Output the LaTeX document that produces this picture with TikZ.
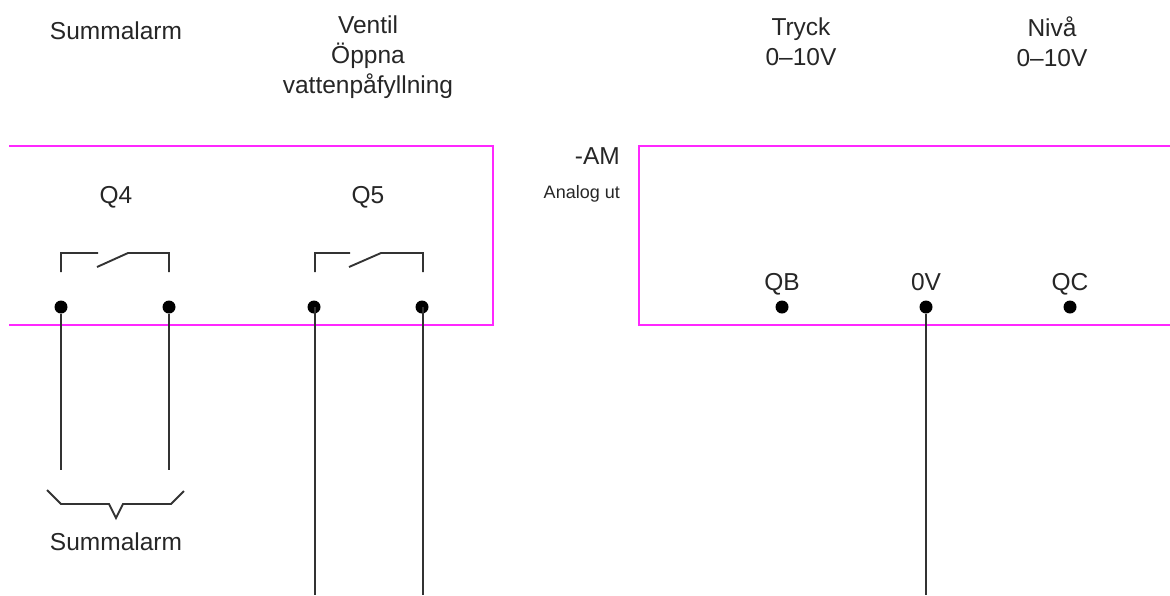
\documentclass[tikz,border=0pt]{standalone}
\usepackage{fontspec}
\setmainfont{Liberation Sans}
\definecolor{pinkframe}{RGB}{255,40,255}
\begin{document}
\begin{tikzpicture}[x=1pt,y=-1pt,
  frame/.style={draw=pinkframe,line width=1.8pt},
  wire/.style={draw=black!80,line width=1.9pt},
  term/.style={circle,fill=black,inner sep=0pt,minimum size=13pt},
  lab/.style={inner sep=0pt,align=center,font=\fontsize{24.5}{30}\selectfont,text=black!85},
  small/.style={inner sep=0pt,font=\fontsize{18}{20}\selectfont,text=black!85}]
\useasboundingbox (0,0) rectangle (1170,595);
\draw[frame] (9,146) -- (493,146) -- (493,325) -- (9,325);
\draw[frame] (1170,146) -- (639,146) -- (639,325) -- (1170,325);
\node[lab] (t1) at (116,31) {Summalarm};
\node[lab] (t2) at (368,57) {Ventil\\Öppna\\vattenpåfyllning};
\node[lab] (t3) at (801,42) {Tryck\\0–10V};
\node[lab] (t4) at (1052,42) {Nivå\\0–10V};
\node[lab] (q4) at (116,197) {Q4};
\node[lab] (q5) at (368,197) {Q5};
\node[lab,anchor=east] (am) at (620,156) {-AM};
\node[small,anchor=east] (au) at (620,194) {Analog ut};
\node[lab,anchor=base] (qb) at (782,290) {QB};
\node[lab,anchor=base] (ov) at (926,290) {0V};
\node[lab,anchor=base] (qc) at (1070,290) {QC};
\node[lab] (s) at (116,542) {Summalarm};
\node[term] (a1) at (61,307) {};
\node[term] (a2) at (169,307) {};
\node[term] (b1) at (314,307) {};
\node[term] (b2) at (422,307) {};
\node[term] (c1) at (782,307) {};
\node[term] (c2) at (926,307) {};
\node[term] (c3) at (1070,307) {};
% switches
\draw[wire] (61,272) -- (61,253) -- (98,253) (97,267) -- (128,253) -- (169,253) -- (169,272);
\draw[wire] (315,272) -- (315,253) -- (350,253) (349,267) -- (381,253) -- (423,253) -- (423,272);
% wires
\coordinate (e1) at (61,470);
\coordinate (e2) at (169,470);
\coordinate (e3) at (315,595);
\coordinate (e4) at (423,595);
\coordinate (e5) at (926,595);
\draw[wire] (a1) -- (e1);
\draw[wire] (a2) -- (e2);
\draw[wire] (b1.center) ++(1,0) -- (e3);
\draw[wire] (b2.center) ++(1,0) -- (e4);
\draw[wire] (c2) -- (e5);
% brace
\draw[wire] (47,490) -- (61,504) -- (109,504) -- (116,518) -- (123,504) -- (171,504) -- (184,491);
\end{tikzpicture}
\end{document}
